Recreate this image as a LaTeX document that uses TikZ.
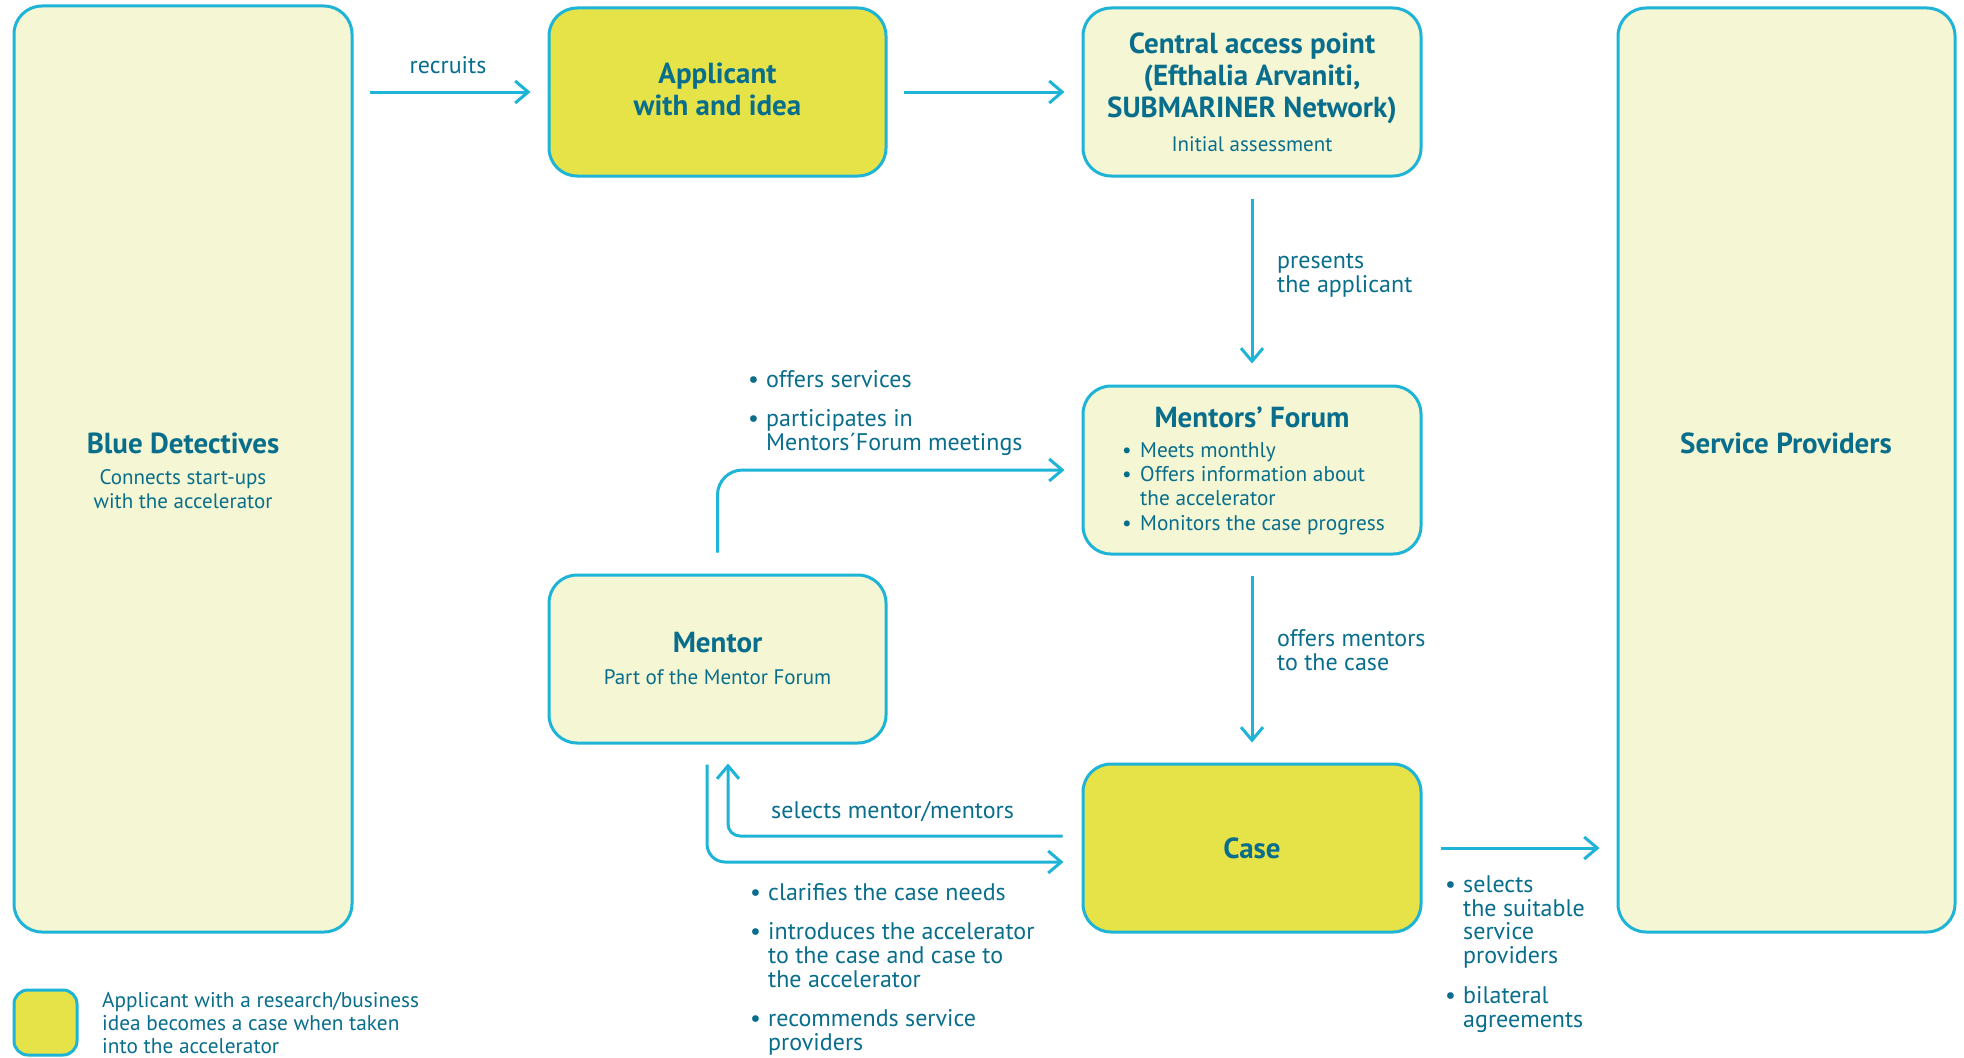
\documentclass[tikz,border=0pt]{standalone}
\usepackage{fontspec}
\setmainfont{PT Sans}
\usetikzlibrary{arrows.meta,calc}
\definecolor{txt}{RGB}{8,110,140}
\definecolor{edgec}{RGB}{30,180,215}
\definecolor{lightc}{RGB}{245,246,211}
\definecolor{hic}{RGB}{230,227,72}
\newcommand\bulitem{\makebox[18pt][l]{\textbullet}}
\newcommand\indt{\hspace*{18pt}}
\begin{document}
\begin{tikzpicture}[x=1pt,y=-1pt,
  box/.style={draw=edgec, line width=3pt, rounded corners=28pt, fill=lightc, inner sep=0pt},
  hibox/.style={box, fill=hic},
  arr/.style={draw=edgec, line width=3pt, -{Straight Barb[length=13pt,width=22pt]}},
  ttl/.style={text=txt, font=\fontsize{29}{32}\selectfont\bfseries, align=center, anchor=base, inner sep=0pt},
  sub/.style={text=txt, font=\fontsize{21}{24}\selectfont, align=center, anchor=base, inner sep=0pt},
  inlist/.style={text=txt, font=\fontsize{21.3}{24.3}\selectfont, align=left, anchor=base west, inner sep=0pt},
  lbl/.style={text=txt, font=\fontsize{24}{23.7}\selectfont, align=left, anchor=base west, inner sep=0pt},
  leg/.style={text=txt, font=\fontsize{21.3}{23}\selectfont, align=left, anchor=base west, inner sep=0pt}
]
\fill[white] (0,0) rectangle (1964,1057);
\useasboundingbox (0,0) rectangle (1964,1057);

% boxes
\node[box, minimum width=338pt, minimum height=926pt] (blue) at (183,469) {};
\node[hibox, minimum width=337pt, minimum height=168pt] (app) at (717.5,92) {};
\node[box, minimum width=338pt, minimum height=168pt] (central) at (1252,92) {};
\node[box, minimum width=337pt, minimum height=924pt] (service) at (1786.5,470) {};
\node[box, minimum width=338pt, minimum height=168pt] (forum) at (1252,470) {};
\node[box, minimum width=337pt, minimum height=168pt] (mentor) at (717.5,659) {};
\node[hibox, minimum width=338pt, minimum height=168pt] (case) at (1252,848) {};
\node[hibox, rounded corners=14pt, minimum width=63pt, minimum height=65pt] (legend) at (45.5,1022.5) {};

% box texts (multi-line nodes: base = last line)
\node[ttl] (bluet) at (183,453) {Blue Detectives};
\node[sub] (blues) at (183,508) {Connects start-ups\\with the accelerator};
\node[ttl] (appt) at (717.5,115) {Applicant\\with and idea};
\node[ttl] (centralt) at (1252,117) {Central access point\\(Efthalia Arvaniti,\\SUBMARINER Network)};
\node[sub] (centrals) at (1252,151) {Initial assessment};
\node[ttl] (servicet) at (1786,453) {Service Providers};
\node[ttl] (forumt) at (1252,427) {Mentors’ Forum};
\node[inlist] (foruml) at (1122,530) {\bulitem Meets monthly\\\bulitem Offers information about\\\indt the accelerator\\\bulitem Monitors the case progress};
\node[ttl] (mentort) at (717.5,652) {Mentor};
\node[sub] (mentors) at (717.5,684) {Part of the Mentor Forum};
\node[ttl] (caset) at (1252,858) {Case};

% connectors
\draw[arr, shorten <=16pt, shorten >=17pt] (app.west -| blue.east) -- (app.west);
\draw[arr, shorten <=16pt, shorten >=17pt] (app.east) -- (central.west);
\draw[arr, shorten <=21pt, shorten >=21pt] (central.south) -- (forum.north);
\draw[arr, shorten <=20pt, shorten >=20pt] (forum.south) -- (case.north);
\draw[arr, rounded corners=25pt] ($(mentor.north)+(0,-21)$) |- ($(forum.west)+(-17,0)$);
\draw[arr, rounded corners=12pt] ($(case.west)+(-19,-12)$) -| ($(mentor.south)+(10.5,19)$);
\draw[arr, rounded corners=18pt] ($(mentor.south)+(-10.5,20)$) |- ($(case.west)+(-18,14)$);
\draw[arr, shorten <=18pt, shorten >=17pt] (case.east) -- (case.east -| service.west);

% labels
\node[lbl, anchor=base] (recruits) at (448,74) {recruits};
\node[lbl] (presents) at (1277,292) {presents\\the applicant};
\node[lbl] (offersm) at (1277,670) {offers mentors\\to the case};
\node[lbl] (selects) at (771,818) {selects mentor/mentors};
\node[lbl] (mentorl) at (748,450) {\bulitem offers services\\[15pt]\bulitem participates in\\\indt Mentors´Forum meetings};
\node[lbl] (casel) at (750,1050) {\bulitem clarifies the case needs\\[15.5pt]\bulitem introduces the accelerator\\\indt to the case and case to\\\indt the accelerator\\[15.5pt]\bulitem recommends service\\\indt providers};
\node[lbl] (servl) at (1445,1027) {\bulitem selects\\\indt the suitable\\\indt service\\\indt providers\\[16pt]\bulitem bilateral\\\indt agreements};
\node[leg] (legt) at (102,1053) {Applicant with a research/business\\idea becomes a case when taken\\into the accelerator};
\end{tikzpicture}
\end{document}
